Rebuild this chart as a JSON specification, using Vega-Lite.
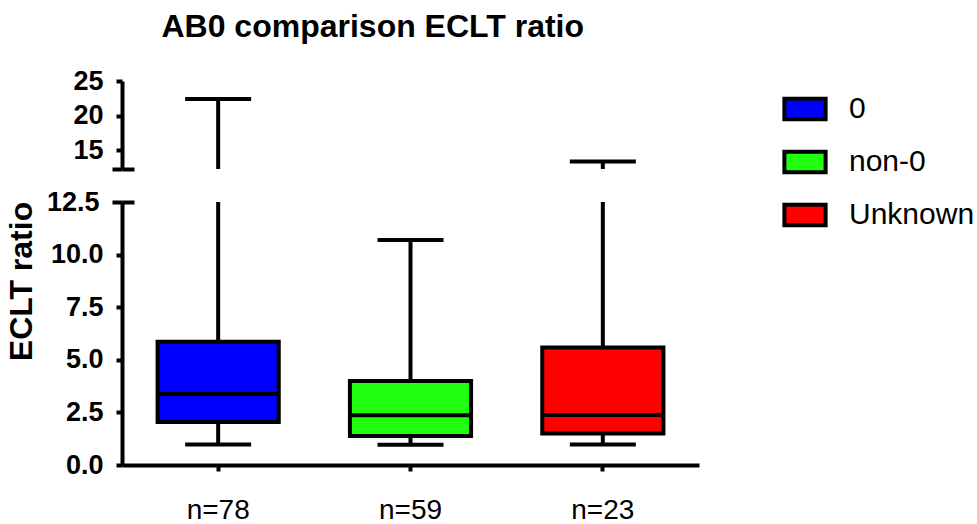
{
  "$schema": "https://vega.github.io/schema/vega-lite/v6.json",
  "background": "white",
  "padding": {"left": 5, "top": 11, "right": 0, "bottom": 0},
  "title": {"text": "AB0 comparison ECLT ratio", "anchor": "start", "dx": 156, "fontSize": 32, "font": "Liberation Sans", "fontWeight": "bold", "color": "black", "offset": 23},
  "data": {"values": [
    {"group": "0", "n": "n=78", "min": 0.98, "q1": 2.04, "median": 3.37, "q3": 5.86, "max": 22.4},
    {"group": "non-0", "n": "n=59", "min": 0.96, "q1": 1.38, "median": 2.36, "q3": 3.99, "max": 10.69},
    {"group": "Unknown", "n": "n=23", "min": 0.98, "q1": 1.5, "median": 2.38, "q3": 5.58, "max": 13.4}
  ]},
  "spacing": 33,
  "bounds": "flush",
  "vconcat": [
    {
      "width": 577,
      "height": 88,
      "resolve": {"axis": {"y": "independent"}},
      "layer": [
        {
          "mark": {"type": "rule", "color": "black", "strokeWidth": 4, "clip": true},
          "encoding": {
            "x": {"field": "n", "type": "nominal", "sort": ["n=78", "n=59", "n=23"], "scale": {"paddingInner": 0, "paddingOuter": 0}, "axis": null},
            "y": {"field": "q3", "type": "quantitative", "scale": {"domain": [12.3, 25], "nice": false, "zero": false},
              "axis": {"values": [12.3, 15, 20, 25], "labelExpr": "datum.value < 13 ? '' : datum.label", "tickSize": {"condition": {"test": "datum.value < 13", "value": 10}, "value": 6}, "title": null}},
            "y2": {"field": "max"}
          }
        },
        {
          "mark": {"type": "tick", "color": "black", "opacity": 1, "size": 66, "thickness": 4, "clip": true},
          "encoding": {
            "x": {"field": "n", "type": "nominal", "sort": ["n=78", "n=59", "n=23"]},
            "y": {"field": "max", "type": "quantitative",
              "axis": {"orient": "right", "offset": -577, "values": [12.3], "labels": false, "domain": false, "tickSize": 12, "title": null}}
          }
        }
      ]
    },
    {
      "width": 577,
      "height": 263,
      "resolve": {"axis": {"y": "independent"}},
      "layer": [
        {
          "mark": {"type": "rule", "color": "black", "strokeWidth": 4, "clip": true},
          "encoding": {
            "x": {"field": "n", "type": "nominal", "sort": ["n=78", "n=59", "n=23"], "scale": {"paddingInner": 0, "paddingOuter": 0},
              "axis": {"title": null, "labelAngle": 0, "labelFontSize": 28, "labelFontWeight": "normal", "labelPadding": 25, "tickSize": 6}},
            "y": {"field": "q3", "type": "quantitative", "scale": {"domain": [0, 12.5], "nice": false},
              "axis": {"values": [0, 2.5, 5, 7.5, 10, 12.5], "format": ".1f", "title": "ECLT ratio", "titleFontSize": 32, "titleFontWeight": "bold", "titlePadding": 8, "titleY": 79,
                "tickSize": {"condition": {"test": "datum.value > 12", "value": 10}, "value": 6}}},
            "y2": {"field": "max"}
          }
        },
        {
          "mark": {"type": "rule", "color": "black", "strokeWidth": 4},
          "encoding": {
            "x": {"field": "n", "type": "nominal", "sort": ["n=78", "n=59", "n=23"]},
            "y": {"field": "min", "type": "quantitative", "axis": null},
            "y2": {"field": "q1"}
          }
        },
        {
          "mark": {"type": "bar", "stroke": "black", "strokeWidth": 4, "opacity": 1, "width": {"band": 0.63}},
          "encoding": {
            "x": {"field": "n", "type": "nominal", "sort": ["n=78", "n=59", "n=23"]},
            "y": {"field": "q1", "type": "quantitative",
              "axis": {"orient": "right", "offset": -577, "values": [12.5], "labels": false, "domain": false, "tickSize": 12, "title": null}},
            "y2": {"field": "q3"},
            "color": {"field": "group", "type": "nominal", "scale": {"domain": ["0", "non-0", "Unknown"], "range": ["#0000FF", "#1FFF0F", "#FF0000"]},
              "legend": {"title": null, "orient": "right", "offset": 78, "padding": 5}}
          }
        },
        {
          "mark": {"type": "tick", "color": "black", "opacity": 1, "size": 121, "thickness": 4},
          "encoding": {
            "x": {"field": "n", "type": "nominal", "sort": ["n=78", "n=59", "n=23"]},
            "y": {"field": "median", "type": "quantitative", "axis": null}
          }
        },
        {
          "mark": {"type": "tick", "color": "black", "opacity": 1, "size": 66, "thickness": 4, "clip": true},
          "encoding": {
            "x": {"field": "n", "type": "nominal", "sort": ["n=78", "n=59", "n=23"]},
            "y": {"field": "max", "type": "quantitative", "axis": null}
          }
        },
        {
          "mark": {"type": "tick", "color": "black", "opacity": 1, "size": 66, "thickness": 4},
          "encoding": {
            "x": {"field": "n", "type": "nominal", "sort": ["n=78", "n=59", "n=23"]},
            "y": {"field": "min", "type": "quantitative", "axis": null}
          }
        }
      ]
    }
  ],
  "config": {
    "font": "Liberation Sans",
    "view": {"stroke": null},
    "axis": {"grid": false, "domainColor": "black", "tickColor": "black", "labelColor": "black", "titleColor": "black", "domainWidth": 4, "tickWidth": 4, "labelFontSize": 27, "labelFontWeight": "bold", "labelPadding": 13, "labelFont": "Liberation Sans", "titleFont": "Liberation Sans"},
    "legend": {"symbolType": "M-1,-0.5H1V0.5H-1Z", "symbolSize": 1700, "symbolStrokeColor": "black", "symbolStrokeWidth": 4, "symbolOpacity": 1, "labelFontSize": 30, "labelFont": "Liberation Sans", "labelColor": "black", "rowPadding": 11, "labelOffset": 21}
  }
}
